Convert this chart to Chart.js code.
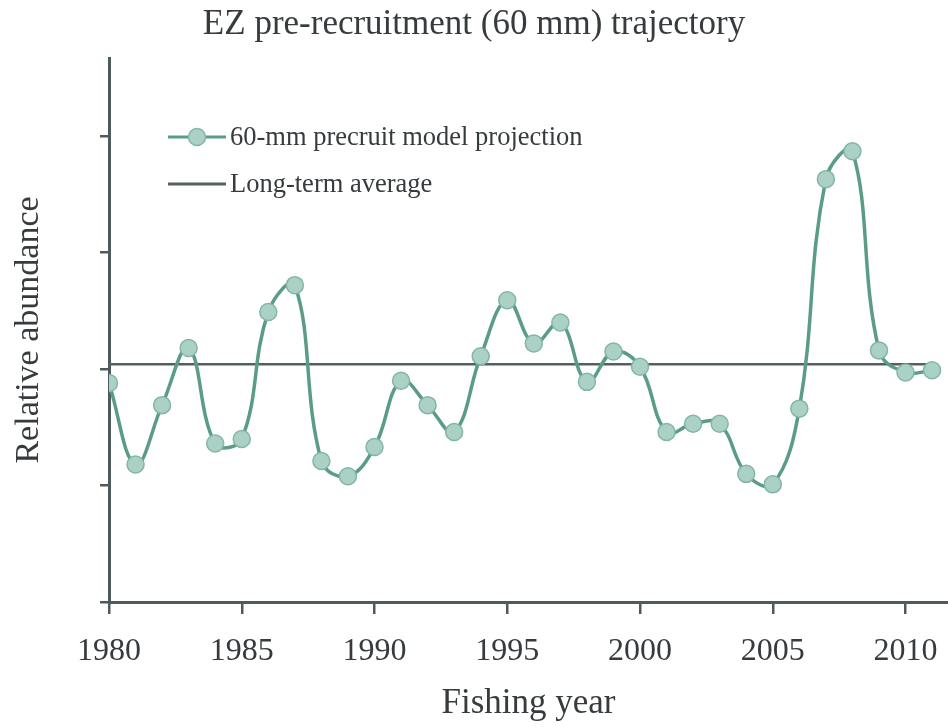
<!DOCTYPE html>
<html>
<head>
<meta charset="utf-8">
<script src="https://cdn.jsdelivr.net/npm/chart.js@4.4.1/dist/chart.umd.min.js"></script>
<style>
  body{margin:0;background:#fff;}
  #wrap{width:948px;height:727px;}
</style>
</head>
<body>
<div id="wrap"><canvas id="chart"></canvas></div>
<script>
const years=[1980,1981,1982,1983,1984,1985,1986,1987,1988,1989,1990,1991,1992,1993,1994,1995,
  1996,1997,1998,1999,2000,2001,2002,2003,2004,2005,2006,2007,2008,2009,2010,2011];
const precruit=[1.88,1.18,1.69,2.18,1.36,1.40,2.49,2.72,1.21,1.08,1.33,1.90,1.69,1.46,2.11,2.59,
  2.22,2.40,1.89,2.15,2.02,1.46,1.53,1.53,1.10,1.01,1.66,3.63,3.87,2.16,1.97,1.99];
const avgYears=[1980,2011];
const avgValues=[2.04,2.04];

const serif="'Liberation Serif', 'DejaVu Serif', serif";
const txt="#363b3d";
const axisCol="#4e5a5c";
const lineCol="#5a9c88";
const dotFill="#abd1c6";
const dotEdge="#83b6a6";

// legend sits inside the plot, top-left
const insideLegend={
  id:"insideLegend",
  afterDatasetsDraw(chart){
    const c=chart.ctx;
    c.save();
    // series entry
    c.strokeStyle=lineCol; c.lineWidth=3;
    c.beginPath(); c.moveTo(168,137); c.lineTo(226,137); c.stroke();
    c.fillStyle=dotFill; c.strokeStyle=dotEdge; c.lineWidth=1.5;
    c.beginPath(); c.arc(197,137,8.5,0,Math.PI*2); c.fill(); c.stroke();
    // average entry
    c.strokeStyle="#555e60"; c.lineWidth=3;
    c.beginPath(); c.moveTo(168,184); c.lineTo(226,184); c.stroke();
    c.fillStyle=txt;
    c.font="26.5px "+serif;
    c.textBaseline="middle";
    c.fillText("60-mm precruit model projection",230,138);
    c.fillText("Long-term average",230,185);
    c.restore();
  }
};

new Chart("chart",{
  type:"line",
  data:{
    datasets:[
      {
        label:"60-mm precruit model projection",
        data:years.map((y,i)=>({x:y,y:precruit[i]})),
        borderColor:lineCol,
        borderWidth:3.5,
        backgroundColor:dotFill,
        pointBorderColor:dotEdge,
        pointBorderWidth:1.5,
        pointRadius:8.5,
        tension:0.4,
        fill:false,
      },
      {
        label:"Long-term average",
        data:avgYears.map((y,i)=>({x:y,y:avgValues[i]})),
        borderColor:"#555e60",
        borderWidth:2.5,
        pointRadius:0,
        fill:false,
      },
    ],
  },
  options:{
    responsive:true,
    maintainAspectRatio:false,
    animation:false,
    layout:{padding:0,autoPadding:false},
    plugins:{
      legend:{display:false},
      tooltip:{enabled:false},
      title:{
        display:true,
        text:"EZ pre-recruitment (60 mm) trajectory",
        color:txt,
        font:{family:serif,size:35,weight:"normal"},
        padding:{top:4,bottom:12},
      },
    },
    scales:{
      x:{
        type:"linear",
        min:1980,
        max:2011.6,
        afterFit(s){s.height=125;s.paddingLeft=0;s.paddingRight=0;},
        border:{color:axisCol,width:3},
        grid:{drawOnChartArea:false,color:axisCol,lineWidth:2.5,tickLength:12},
        ticks:{
          stepSize:5,
          includeBounds:false,
          autoSkip:false,
          maxRotation:0,
          padding:18,
          color:txt,
          font:{family:serif,size:32},
          callback:v=>String(v),
        },
        title:{
          display:true,
          text:"Fishing year",
          color:txt,
          font:{family:serif,size:35},
          padding:{top:0,bottom:2},
        },
      },
      y:{
        min:0,
        max:4.67,
        afterFit(s){s.width=109;},
        border:{color:axisCol,width:3},
        grid:{drawOnChartArea:false,color:axisCol,lineWidth:2.5,tickLength:9},
        ticks:{stepSize:1,includeBounds:false,display:false},
        title:{
          display:true,
          text:"Relative abundance",
          color:txt,
          font:{family:serif,size:34},
          padding:{top:9,bottom:0},
        },
      },
    },
  },
  plugins:[insideLegend],
});
</script>
</body>
</html>
